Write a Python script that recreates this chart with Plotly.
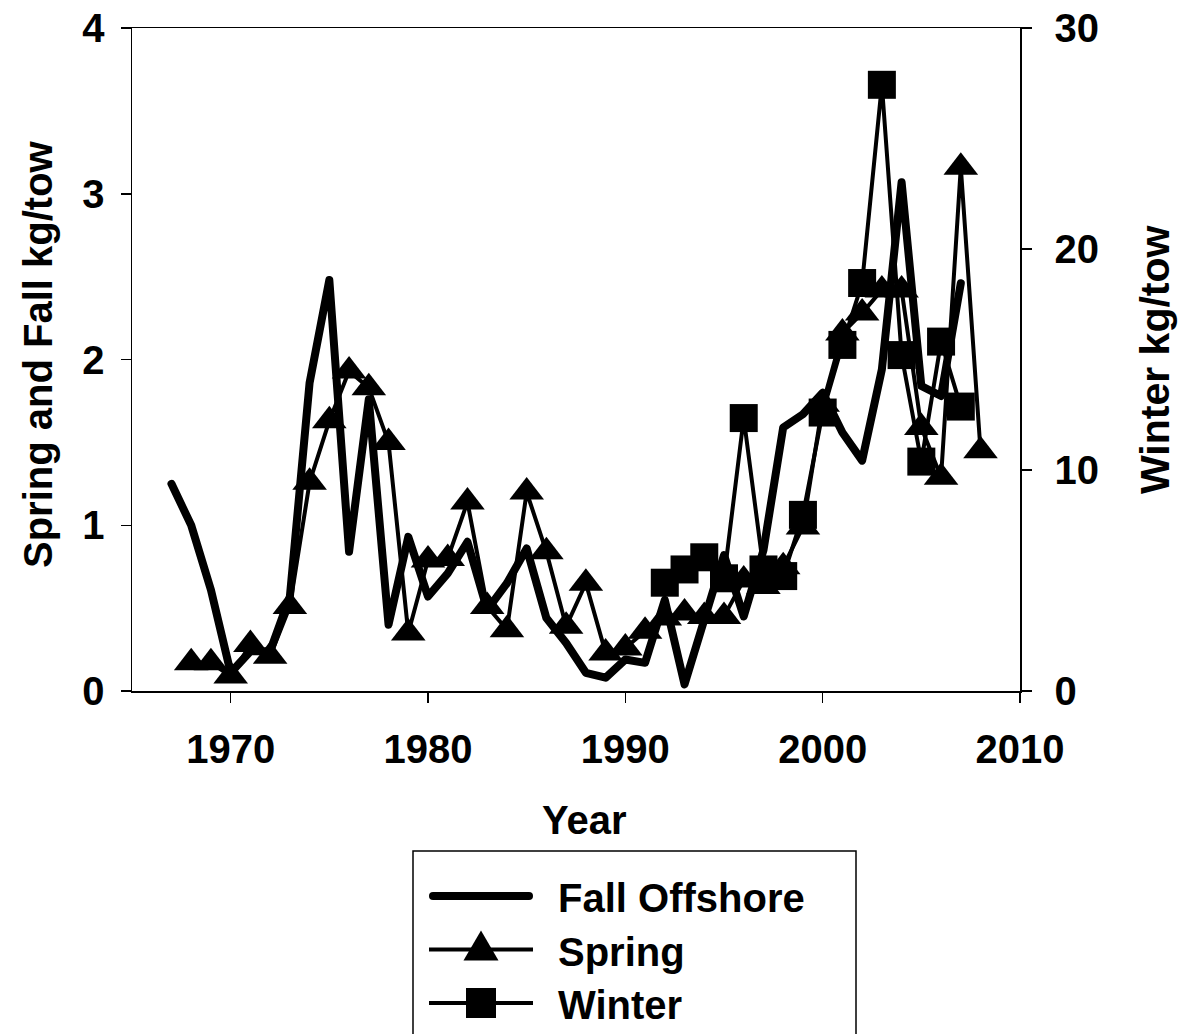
import plotly.graph_objects as go

# ---------------- data ----------------
fall_years = list(range(1967, 2008))
fall_kg = [1.25, 1.00, 0.61, 0.11, 0.24, 0.24, 0.57, 1.86, 2.48, 0.84,
           1.76, 0.40, 0.93, 0.57, 0.71, 0.90, 0.49, 0.65, 0.86, 0.44,
           0.29, 0.11, 0.08, 0.19, 0.17, 0.55, 0.04, 0.45, 0.82, 0.45,
           0.85, 1.59, 1.67, 1.80, 1.56, 1.39, 1.94, 3.07, 1.84, 1.78,
           2.46]

spring_years = list(range(1968, 2009))
spring_kg = [0.17, 0.17, 0.09, 0.28, 0.21, 0.51, 1.26, 1.63, 1.93, 1.83,
             1.50, 0.35, 0.79, 0.80, 1.14, 0.51, 0.37, 1.20, 0.84, 0.39,
             0.65, 0.23, 0.26, 0.36, 0.44, 0.47, 0.45, 0.45, 0.67, 0.63,
             0.75, 0.99, 1.73, 2.16, 2.28, 2.42, 2.42, 1.59, 1.29, 3.16,
             1.45]

winter_years = list(range(1992, 2008))
winter_kg = [4.9, 5.5, 6.05, 5.1, 12.35, 5.5, 5.2, 7.97, 12.6, 15.66,
             18.46, 27.43, 15.2, 10.38, 15.81, 12.87]

x_ticks = [1970, 1980, 1990, 2000, 2010]
y_ticks = [0, 1, 2, 3, 4]
y2_ticks = [0, 10, 20, 30]

legend_names = ["Fall Offshore", "Spring", "Winter"]

# ---------------- layout geometry ----------------
W, H = 1179, 1034
PL, PR, PT, PB = 132, 1020, 28, 691  # plot area in pixels


def px(x):
    return (x - PL) / (PR - PL)


def py(y):
    return (PB - y) / (PB - PT)


FAM = "Liberation Sans, Arial, sans-serif"
FONT = dict(family=FAM, size=40, color="black", weight="bold")

fig = go.Figure()
fig.add_trace(go.Scatter(x=fall_years, y=fall_kg, mode="lines",
                         line=dict(color="black", width=8),
                         name=legend_names[0], showlegend=False))
fig.add_trace(go.Scatter(x=spring_years, y=spring_kg, mode="lines+markers",
                         line=dict(color="black", width=4),
                         marker=dict(symbol="triangle-up", size=30, color="black",
                                     line=dict(width=0)),
                         name=legend_names[1], showlegend=False))
fig.add_trace(go.Scatter(x=winter_years, y=winter_kg, mode="lines+markers",
                         yaxis="y2",
                         line=dict(color="black", width=4),
                         marker=dict(symbol="square", size=28, color="black",
                                     line=dict(width=0)),
                         name=legend_names[2], showlegend=False))

axis_common = dict(showgrid=False, zeroline=False, showline=True,
                   linecolor="black", linewidth=1.5, ticks="outside",
                   ticklen=10, tickwidth=1.5, tickcolor="black",
                   tickfont=FONT, automargin=False)

fig.update_layout(
    template="none",
    width=W, height=H,
    margin=dict(l=PL, r=W - PR, t=PT, b=H - PB, pad=0, autoexpand=False),
    paper_bgcolor="white", plot_bgcolor="white",
    showlegend=False,
    xaxis=dict(range=[1965, 2010], tickvals=x_ticks, mirror=True,
               ticklabelstandoff=12, **axis_common),
    yaxis=dict(range=[0, 4], tickvals=y_ticks, ticklabelstandoff=8,
               **axis_common),
    yaxis2=dict(range=[0, 30], tickvals=y2_ticks, overlaying="y", side="right",
                ticklabelstandoff=15, **axis_common),
)

# axis titles
ann = []
ann.append(dict(text="Year", x=px(584), y=py(820), xref="paper", yref="paper",
                showarrow=False, font=FONT, xanchor="center", yanchor="middle"))
ann.append(dict(text="Spring and Fall kg/tow", x=px(38), y=py(354), xref="paper",
                yref="paper", showarrow=False, font=FONT, textangle=-90,
                xanchor="center", yanchor="middle"))
ann.append(dict(text="Winter kg/tow", x=px(1155), y=py(360), xref="paper",
                yref="paper", showarrow=False, font=dict(FONT, size=41),
                textangle=-90, xanchor="center", yanchor="middle"))

# manual legend
shapes = []
shapes.append(dict(type="rect", xref="paper", yref="paper",
                   x0=px(413), x1=px(856), y0=py(851), y1=py(1080),
                   line=dict(color="black", width=1.5), fillcolor="white",
                   layer="below"))
rows = [896, 949.5, 1003]
lx0, lx1 = 429, 533
# fall sample (thick, round ends)
shapes.append(dict(type="line", xref="paper", yref="paper",
                   x0=px(lx0 + 4), x1=px(lx1 - 4), y0=py(rows[0]), y1=py(rows[0]),
                   line=dict(color="black", width=8)))
for cx in (lx0 + 4, lx1 - 4):
    shapes.append(dict(type="circle", xref="paper", yref="paper",
                       x0=px(cx - 4), x1=px(cx + 4), y0=py(rows[0] - 4), y1=py(rows[0] + 4),
                       fillcolor="black", line=dict(width=0)))
for r in rows[1:]:
    shapes.append(dict(type="line", xref="paper", yref="paper",
                       x0=px(lx0), x1=px(lx1), y0=py(r), y1=py(r),
                       line=dict(color="black", width=4)))
mx = 481
tri = "M {:.5f},{:.5f} L {:.5f},{:.5f} L {:.5f},{:.5f} Z".format(
    px(mx - 17.5), py(rows[1] + 11), px(mx + 17.5), py(rows[1] + 11),
    px(mx), py(rows[1] - 19))
shapes.append(dict(type="path", xref="paper", yref="paper", path=tri,
                   fillcolor="black", line=dict(width=0)))
shapes.append(dict(type="rect", xref="paper", yref="paper",
                   x0=px(mx - 15), x1=px(mx + 15), y0=py(rows[2] - 15), y1=py(rows[2] + 15),
                   fillcolor="black", line=dict(width=0)))
for name, r in zip(legend_names, rows):
    ann.append(dict(text=name, x=px(556), y=py(r + 2), xref="paper", yref="paper",
                    showarrow=False, font=FONT, xanchor="left", yanchor="middle"))

fig.update_layout(annotations=ann, shapes=shapes)

post = """
document.body.style.margin='0';
document.documentElement.style.margin='0';
function fixLines(){
  document.querySelectorAll('.scatterlayer .js-line').forEach(function(p){
    p.style.strokeLinejoin='round'; p.style.strokeLinecap='round';
  });
}
fixLines(); setTimeout(fixLines, 50);
"""
fig.write_html("out.html", post_script=post,
               config={"displayModeBar": False, "staticPlot": True})
